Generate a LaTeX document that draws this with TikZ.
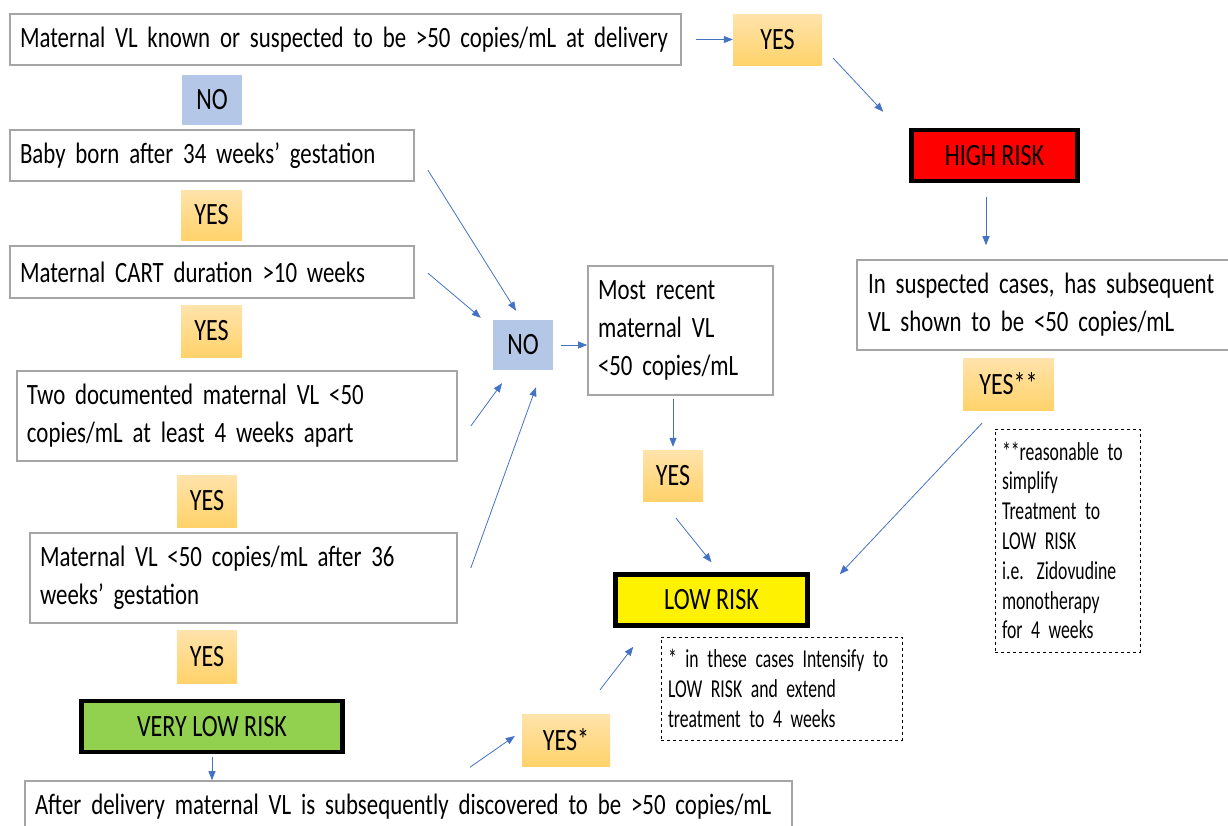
\documentclass[tikz,border=0pt]{standalone}
\usepackage{fontspec}
\setmainfont{Carlito}[FakeStretch=0.775]
\newfontfamily\notefont{Carlito}[FakeStretch=0.685]
\usetikzlibrary{arrows.meta}
\definecolor{boxgray}{HTML}{A5A5A5}
\definecolor{nofill}{HTML}{B4C7E7}
\definecolor{yestop}{HTML}{FFE3AB}
\definecolor{yesbot}{HTML}{FFD26A}
\definecolor{arrowblue}{HTML}{4472C4}
\definecolor{lowgreen}{HTML}{92D050}
\newcommand\fmain{\fontsize{29.5}{38}\selectfont\fontdimen2\font=5.2pt\relax}
\newcommand\flabel{\fontsize{31}{38}\selectfont\fontdimen2\font=5.4pt\relax}
\newcommand\fnote{\notefont\fontsize{25.8}{29.8}\selectfont\fontdimen2\font=4pt\relax}

\begin{document}
\begin{tikzpicture}[x=1pt,y=-1pt,font=\fmain,
  cond/.style={draw=boxgray,line width=1.6pt,align=left,inner xsep=10pt,inner ysep=0pt},
  yesbox/.style={top color=yestop,bottom color=yesbot,inner sep=0pt,font=\flabel},
  nobox/.style={fill=nofill,minimum width=60pt,minimum height=50pt,inner sep=0pt,font=\flabel},
  riskbox/.style={draw=black,line width=4.5pt,inner sep=0pt,minimum height=51pt,font=\flabel},
  notebox/.style={draw,dashed,line width=0.8pt,align=left,font=\fnote,inner xsep=7pt,inner ysep=0pt},
  link/.style={arrowblue,line width=0.8pt,-{Triangle[length=9pt,width=7pt]}}]
\useasboundingbox (0,0) rectangle (1228,825);

\node[cond,text width=651pt,minimum height=51pt] (known) at (345.5,39.5) {Maternal VL known or suspected to be >50 copies/mL at delivery};
\node[nobox] (no1) at (212,100) {NO};
\node[cond,text width=384pt,minimum height=51pt] (baby) at (212,155.5) {Baby born after 34 weeks’ gestation};
\node[yesbox,minimum width=61pt,minimum height=50pt] (yes1) at (211.5,215) {YES};
\node[cond,text width=384pt,minimum height=52pt] (cart) at (212,272) {Maternal CART duration >10 weeks};
\node[yesbox,minimum width=61pt,minimum height=52pt] (yes2) at (211.5,331) {YES};
\node[cond,text width=420pt,minimum height=90pt] (twovl) at (237,416) {Two documented maternal VL <50\\copies/mL at least 4 weeks apart};
\node[yesbox,minimum width=60pt,minimum height=52pt] (yes3) at (207,501) {YES};
\node[cond,text width=407pt,minimum height=90pt] (late) at (243.5,578) {Maternal VL <50 copies/mL after 36\\weeks’ gestation};
\node[yesbox,minimum width=60pt,minimum height=53pt] (yes4) at (207,656.5) {YES};
\node[riskbox,fill=lowgreen,minimum width=261pt] (vlow) at (212,726.5) {VERY LOW RISK};
\node[cond,text width=747pt,minimum height=52pt] (after) at (408.5,807) {After delivery maternal VL is subsequently discovered to be >50 copies/mL};

\node[nobox] (no2) at (523,345) {NO};
\node[cond,text width=165pt,minimum height=129pt] (recent) at (680.5,330.5) {Most recent\\maternal VL\\<50 copies/mL};
\node[yesbox,minimum width=60pt,minimum height=51pt] (yes5) at (673,475.5) {YES};
\node[riskbox,fill=yellow,minimum width=192pt] (low) at (711.5,600) {LOW RISK};
\node[notebox,text width=227pt,minimum height=103pt] (note1) at (781.5,688.5) {* in these cases Intensify to\\LOW RISK and extend\\treatment to 4 weeks};
\node[yesbox,minimum width=88pt,minimum height=52pt] (yes8) at (566,740) {YES*};

\node[yesbox,minimum width=89pt,minimum height=51pt] (yes6) at (777.5,39.5) {YES};
\node[riskbox,fill=red,minimum width=166pt] (high) at (994.5,155.5) {HIGH RISK};
\node[cond,text width=361pt,inner xsep=11pt,minimum height=90pt] (susp) at (1048.5,305) {In suspected cases, has subsequent\\VL shown to be <50 copies/mL};
\node[yesbox,minimum width=91pt,minimum height=52pt] (yes7) at (1008.5,384) {YES**};
\node[notebox,text width=131pt,minimum height=223pt] (note2) at (1067.5,540.5) {**reasonable to\\simplify\\Treatment to\\LOW RISK\\i.e. Zidovudine\\monotherapy\\for 4 weeks};

\draw[link] ([shift={(14,0)}]known.east) -- (yes6.west);
\draw[link] ([shift={(11,-7)}]yes6.south east) -- ([shift={(-26,-16)}]high.north west);
\draw[link] ([shift={(-8.5,14)}]high.south) -- ([shift={(-62.5,-14)}]susp.north);
\draw[link] ([shift={(13,14.5)}]baby.east) -- ([shift={(-7,-9)}]no2.north);
\draw[link] ([shift={(13,1)}]cart.east) -- ([shift={(-12,-2)}]no2.north west);
\draw[link] ([shift={(13,10)}]twovl.east) -- ([shift={(-21,13)}]no2.south);
\draw[link] ([shift={(13,-10)}]late.east) -- ([shift={(13,17)}]no2.south);
\draw[link,shorten <=8pt] (no2.east) -- (no2.east -| recent.west);
\draw[link,shorten <=3pt,shorten >=3pt] (yes5.north |- recent.south) -- (yes5.north);
\draw[link] ([shift={(3,17)}]yes5.south) -- ([shift={(0,-10)}]low.north);
\draw[link] ([shift={(-26.5,13)}]yes7.south) -- ([shift={(30,2)}]low.north east);
\draw[link,shorten <=3pt] (vlow.south) -- (vlow.south |- after.north);
\draw[link] ([shift={(61.5,-13)}]after.north) -- ([shift={(-7,-4)}]yes8.west);
\draw[link] ([shift={(34,-24)}]yes8.north) -- ([shift={(20,19)}]low.south west);
\end{tikzpicture}
\end{document}
